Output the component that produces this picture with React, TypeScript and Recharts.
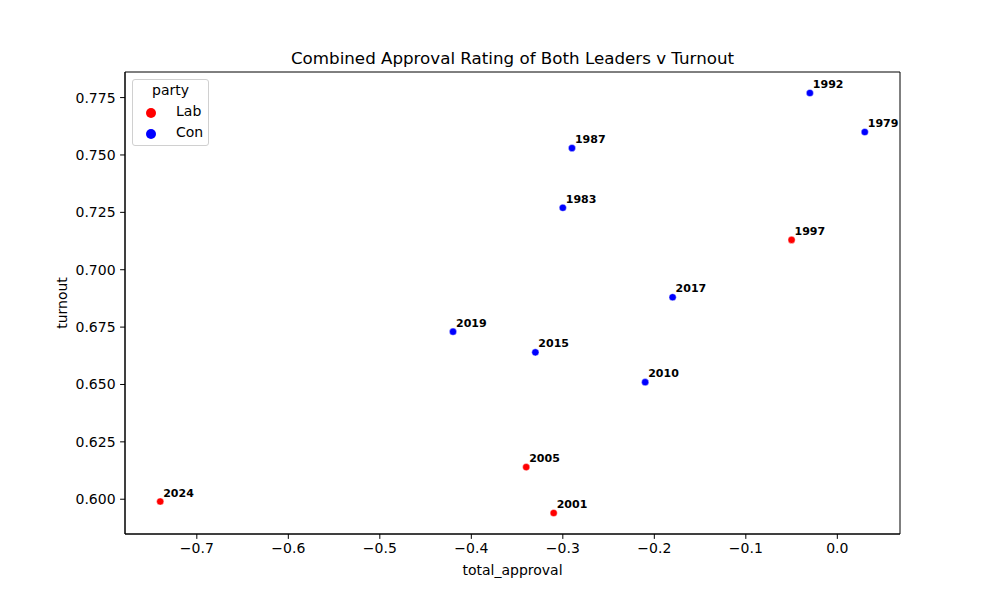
import React from 'react';
import { ScatterChart, Scatter, XAxis, YAxis, ReferenceArea, LabelList, Label } from 'recharts';

const years = ['2024', '2005', '2001', '1997', '2019', '2015', '2010', '2017', '1983', '1987', '1992', '1979'];
const approval = [-0.74, -0.34, -0.31, -0.05, -0.42, -0.33, -0.21, -0.18, -0.30, -0.29, -0.03, 0.03];
const turnout = [0.599, 0.614, 0.594, 0.713, 0.673, 0.664, 0.651, 0.688, 0.727, 0.753, 0.777, 0.760];
const party = ['Lab', 'Lab', 'Lab', 'Lab', 'Con', 'Con', 'Con', 'Con', 'Con', 'Con', 'Con', 'Con'];
const parties = ['Lab', 'Con'];
const partyColors = ['#ff0000', '#0000ff'];
const xTicks = [-0.7, -0.6, -0.5, -0.4, -0.3, -0.2, -0.1, 0.0];
const yTicks = [0.600, 0.625, 0.650, 0.675, 0.700, 0.725, 0.750, 0.775];

const rows = years.map((y, i) => ({ year: y, x: approval[i], y: turnout[i], party: party[i] }));
const xDomain: [number, number] = [-0.7785, 0.0685];
const yDomain: [number, number] = [0.58485, 0.78615];

const FONT = '"DejaVu Sans", sans-serif';

const fmtX = (v: number) => (v < 0 ? '\u2212' + Math.abs(v).toFixed(1) : v.toFixed(1));
const fmtY = (v: number) => v.toFixed(3);

const YearLabel = (props: any) => {
  const { x, y, width, height, value } = props;
  const cx = x + (width || 0) / 2;
  const cy = y + (height || 0) / 2;
  return (
    <text x={cx + 3} y={cy - 5} fontSize={11} fontWeight="bold" fontFamily={FONT} fill="#000">
      {value}
    </text>
  );
};

const Dot = (props: any) => {
  const { cx, cy, fill } = props;
  return <circle cx={cx} cy={cy} r={3.6} fill={fill} stroke="#fff" strokeWidth={0.4} />;
};

export default function App() {
  return (
    <div style={{ position: 'absolute', left: 0, top: 0, width: 1000, height: 600, background: '#fff' }}>
      <ScatterChart width={1000} height={600} margin={{ top: 72, right: 100, bottom: 0, left: 0 }}>
        <XAxis
          type="number"
          dataKey="x"
          domain={xDomain}
          ticks={xTicks}
          allowDataOverflow
          tickFormatter={fmtX}
          height={66}
          tickSize={4.9}
          tickMargin={4}
          tickLine={{ stroke: '#000' }}
          axisLine={{ stroke: '#000' }}
          tick={{ fill: '#000', fontSize: 14, fontFamily: FONT }}
        >
          <Label value="total_approval" position="center" dy={3} fill="#000" fontSize={14} fontFamily={FONT} />
        </XAxis>
        <YAxis
          type="number"
          dataKey="y"
          domain={yDomain}
          ticks={yTicks}
          allowDataOverflow
          tickFormatter={fmtY}
          width={125}
          tickSize={4.9}
          tickMargin={4.5}
          tickLine={{ stroke: '#000' }}
          axisLine={{ stroke: '#000' }}
          tick={{ fill: '#000', fontSize: 14, fontFamily: FONT }}
        >
          <Label value="turnout" position="center" angle={-90} dx={0} fill="#000" fontSize={14} fontFamily={FONT} />
        </YAxis>
        <ReferenceArea
          x1={xDomain[0]}
          x2={xDomain[1]}
          y1={yDomain[0]}
          y2={yDomain[1]}
          fill="none"
          fillOpacity={0}
          stroke="#000"
          strokeWidth={1}
          ifOverflow="visible"
        >
          <Label
            value="Combined Approval Rating of Both Leaders v Turnout"
            position="top"
            offset={8}
            fill="#000"
            fontSize={16.7}
            fontFamily={FONT}
          />
        </ReferenceArea>
        {parties.map((p, i) => (
          <Scatter
            key={p}
            name={p}
            data={rows.filter((r) => r.party === p)}
            fill={partyColors[i]}
            shape={<Dot />}
            isAnimationActive={false}
          >
            <LabelList dataKey="year" content={<YearLabel />} />
          </Scatter>
        ))}
      </ScatterChart>
      <div
        style={{
          position: 'absolute',
          left: 132,
          top: 79,
          width: 75,
          height: 65,
          border: '1px solid #d0d0d0',
          borderRadius: 3,
          background: 'rgba(255,255,255,0.8)',
          fontFamily: FONT,
          fontSize: 14,
          color: '#000',
        }}
      >
        <div style={{ position: 'absolute', left: 0, width: 75, top: 2, textAlign: 'center' }}>party</div>
        {parties.map((p, i) => (
          <div key={p} style={{ position: 'absolute', left: 0, top: 23 + i * 21, height: 18, width: 75 }}>
            <span
              style={{
                position: 'absolute',
                left: 13,
                top: 5,
                width: 10,
                height: 10,
                borderRadius: 5,
                background: partyColors[i],
              }}
            />
            <span style={{ position: 'absolute', left: 43, top: 0 }}>{p}</span>
          </div>
        ))}
      </div>
    </div>
  );
}
